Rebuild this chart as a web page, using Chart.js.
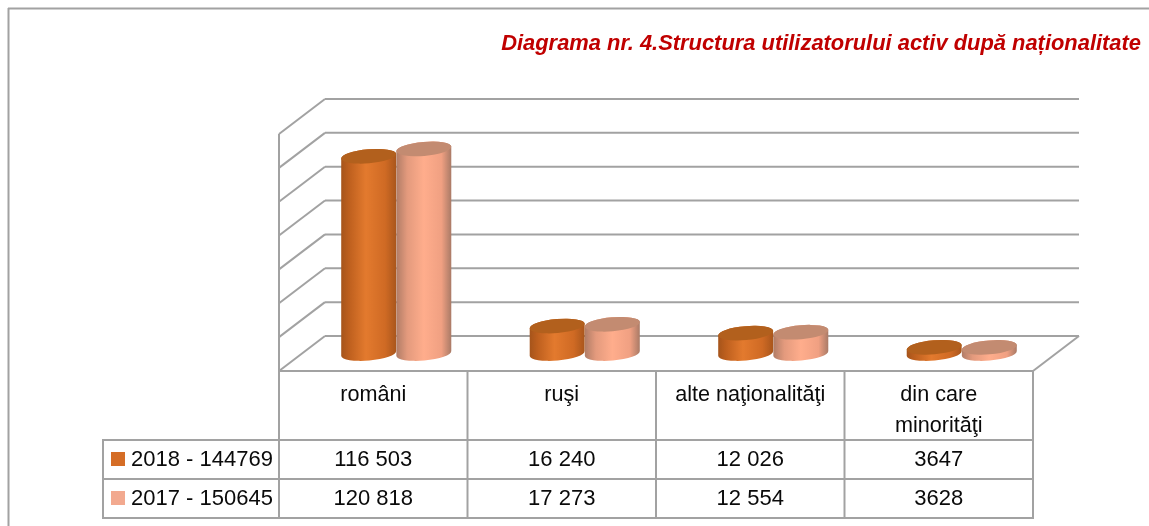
<!DOCTYPE html>
<html>
<head>
<meta charset="utf-8">
<title>Diagrama nr. 4</title>
<script src="https://cdn.jsdelivr.net/npm/chart.js@4/dist/chart.umd.js"></script>
<style>
  html, body { margin: 0; padding: 0; background: #fff; }
  canvas { display: block; }
</style>
</head>
<body>
<canvas id="chart" width="1149" height="526"></canvas>
<script>
const categories = ['români', 'ruşi', 'alte naţionalităţi', ['din care', 'minorităţi']];
const seriesNames = ['2018 - 144769', '2017 - 150645'];
const values2018 = [116503, 16240, 12026, 3647];
const values2017 = [120818, 17273, 12554, 3628];
const labels2018 = ['116 503', '16 240', '12 026', '3647'];
const labels2017 = ['120 818', '17 273', '12 554', '3628'];
const titleText = 'Diagrama nr. 4.Structura utilizatorului activ după naționalitate';

const LINE = '#a2a2a2';
const TEXT = '#0a0a0a';
const FONT = '22px "Liberation Sans", Arial, sans-serif';

// depth of the fake 3D box, in px
const DEPTH_X = 46;
const DEPTH_Y = -35;

const swatches = ['#d56d26', '#f2a98f'];
const sideStops = [
  [[0, '#a5541b'], [0.14, '#bd5f1e'], [0.45, '#e37a2e'], [0.8, '#cf6a24'], [1, '#a9561c']],
  [[0, '#b07c66'], [0.2, '#e39a7d'], [0.5, '#ffad8c'], [0.82, '#f0a082'], [1, '#a97a66']]
];
const topColors = ['#b2601d', '#c38b71'];

function line(ctx, x1, y1, x2, y2) {
  ctx.beginPath();
  ctx.moveTo(x1, y1);
  ctx.lineTo(x2, y2);
  ctx.stroke();
}

// frame, back wall, left wall and floor
const wallsPlugin = {
  id: 'walls',
  beforeDatasetsDraw(chart) {
    const { ctx, chartArea: a, scales: { y } } = chart;
    ctx.save();
    ctx.strokeStyle = LINE;
    ctx.lineWidth = 2;
    line(ctx, 8, 8.5, 1149, 8.5);
    line(ctx, 8.5, 8, 8.5, 526);
    y.ticks.forEach(t => {
      const py = y.getPixelForValue(t.value);
      line(ctx, a.left + DEPTH_X, py + DEPTH_Y, a.right + DEPTH_X, py + DEPTH_Y);
      line(ctx, a.left, py, a.left + DEPTH_X, py + DEPTH_Y);
    });
    line(ctx, a.left, a.top, a.left, a.bottom);
    line(ctx, a.left, a.bottom, a.right, a.bottom);
    line(ctx, a.right, a.bottom, a.right + DEPTH_X, a.bottom + DEPTH_Y);
    ctx.restore();
  }
};

// bars are drawn as cylinders standing halfway into the box
const cylinderPlugin = {
  id: 'cylinders',
  beforeDatasetDraw(chart, args) {
    const ctx = chart.ctx;
    const i = args.index;
    const rot = -5 * Math.PI / 180;
    args.meta.data.forEach(bar => {
      const cx = bar.x + DEPTH_X / 2;
      const rx = bar.width / 2;
      const ry = 7;
      const topY = bar.y + DEPTH_Y / 2;
      const baseY = bar.base + DEPTH_Y / 2;
      const grad = ctx.createLinearGradient(cx - rx, 0, cx + rx, 0);
      sideStops[i].forEach(s => grad.addColorStop(s[0], s[1]));
      ctx.save();
      ctx.filter = 'blur(0.6px)';
      ctx.fillStyle = grad;
      ctx.beginPath();
      ctx.ellipse(cx, baseY, rx, ry, rot, 0, Math.PI);
      ctx.ellipse(cx, topY, rx, ry, rot, Math.PI, 0);
      ctx.closePath();
      ctx.fill();
      ctx.fillStyle = topColors[i];
      ctx.beginPath();
      ctx.ellipse(cx, topY, rx, ry, rot, 0, Math.PI * 2);
      ctx.fill();
      ctx.restore();
    });
    return false;
  }
};

// data table under the chart
const tablePlugin = {
  id: 'dataTable',
  afterDraw(chart) {
    const { ctx, chartArea: a } = chart;
    const rows = [440, 479, 518];
    const tableLeft = 103;
    const colW = (a.right - a.left) / categories.length;
    ctx.save();
    ctx.strokeStyle = LINE;
    ctx.lineWidth = 2;
    line(ctx, tableLeft, rows[0], a.right, rows[0]);
    line(ctx, tableLeft, rows[1], a.right, rows[1]);
    line(ctx, tableLeft, rows[2], a.right, rows[2]);
    line(ctx, tableLeft, rows[0] - 1, tableLeft, rows[2] + 1);
    for (let c = 0; c <= categories.length; c++) {
      line(ctx, a.left + c * colW, a.bottom, a.left + c * colW, rows[2] + 1);
    }
    ctx.font = FONT;
    ctx.textBaseline = 'middle';
    [labels2018, labels2017].forEach((cells, r) => {
      const cy = (rows[r] + rows[r + 1]) / 2;
      ctx.fillStyle = swatches[r];
      ctx.fillRect(111, cy - 7.5, 14, 14);
      ctx.fillStyle = TEXT;
      ctx.textAlign = 'left';
      ctx.fillText(seriesNames[r], 131, cy);
      ctx.textAlign = 'center';
      cells.forEach((txt, c) => ctx.fillText(txt, a.left + (c + 0.5) * colW, cy));
    });
    ctx.restore();
  }
};

new Chart(document.getElementById('chart'), {
  type: 'bar',
  data: {
    labels: categories,
    datasets: [
      { label: seriesNames[0], data: values2018, backgroundColor: swatches[0] },
      { label: seriesNames[1], data: values2017, backgroundColor: swatches[1] }
    ]
  },
  options: {
    responsive: false,
    animation: false,
    layout: { padding: { top: 0, left: 0, right: 8, bottom: 0 } },
    datasets: { bar: { categoryPercentage: 0.585, barPercentage: 1 } },
    plugins: {
      legend: { display: false },
      tooltip: { enabled: false },
      title: {
        display: true,
        text: titleText,
        align: 'end',
        color: '#c00000',
        font: { family: '"Liberation Sans", Arial, sans-serif', size: 21.9, weight: 'bold', style: 'italic', lineHeight: 1.2 },
        padding: { top: 31, bottom: 76.7 }
      }
    },
    scales: {
      x: {
        grid: { display: false, drawTicks: false },
        border: { display: false },
        afterFit(scale) { scale.height = 155; },
        ticks: {
          color: TEXT,
          padding: 9,
          autoSkip: false,
          maxRotation: 0,
          font: { family: '"Liberation Sans", Arial, sans-serif', size: 21.6, lineHeight: 1.42 }
        }
      },
      y: {
        min: 0,
        max: 140000,
        grid: { display: false },
        border: { display: false },
        afterFit(scale) { scale.width = 279; },
        ticks: { display: false, stepSize: 20000 }
      },
      right: {
        position: 'right',
        grid: { display: false },
        border: { display: false },
        afterFit(scale) { scale.width = 108; },
        ticks: { display: false }
      }
    }
  },
  plugins: [wallsPlugin, cylinderPlugin, tablePlugin]
});
</script>
</body>
</html>
